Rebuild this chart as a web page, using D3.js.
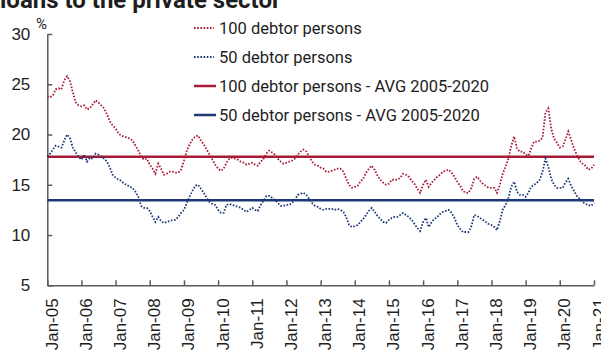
<!DOCTYPE html>
<html>
<head>
<meta charset="utf-8">
<script src="https://cdn.jsdelivr.net/npm/d3@7"></script>
<style>
  html, body { margin: 0; padding: 0; background: #fff; }
  svg { display: block; font-family: Roboto, "Noto Sans", Arial, sans-serif; }
</style>
</head>
<body>
<svg id="chart" width="601" height="350"></svg>
<script>
// Share of loans held by the largest debtors, monthly, Jan-2005 to Jan-2021 (%)
const startMonth = "2005-01";
const top100 = [
  23.8, 23.7, 23.9, 24.5, 24.6, 24.5, 25.4, 25.8, 25.3, 24.2, 23.2, 22.9,
  22.8, 22.9, 22.5, 22.6, 23.0, 23.4, 23.2, 22.9, 22.6, 22.0, 21.3, 20.9,
  20.6, 20.1, 19.9, 19.8, 19.7, 19.6, 19.4, 18.9, 18.4, 17.8, 17.5, 17.6,
  17.0, 16.6, 16.1, 17.1, 16.6, 16.0, 16.1, 16.3, 16.3, 16.2, 16.2, 16.5,
  17.4, 18.4, 19.0, 19.5, 19.8, 19.9, 19.4, 19.0, 18.5, 18.0, 17.5, 17.0,
  16.6, 16.4, 16.6, 17.2, 17.6, 17.7, 17.6, 17.5, 17.3, 17.2, 17.0, 17.1,
  17.2, 17.0, 16.9, 17.3, 17.6, 18.1, 18.4, 18.2, 18.0, 17.6, 17.3, 17.1,
  17.2, 17.3, 17.4, 17.6, 18.0, 18.3, 18.5, 18.3, 17.8, 17.3, 17.0, 16.9,
  16.7, 16.6, 16.3, 16.3, 16.4, 16.5, 16.6, 16.6, 16.3, 15.6, 15.0, 14.7,
  14.8, 14.9, 15.3, 15.6, 16.2, 16.6, 16.9, 16.5, 15.9, 15.5, 15.2, 15.0,
  15.1, 15.5, 15.5, 15.5, 15.7, 16.1, 16.0, 15.8, 15.4, 15.1, 14.6, 14.2,
  15.0, 15.5, 14.8, 15.2, 15.5, 15.8, 16.0, 16.3, 16.4, 16.5, 16.2, 15.8,
  15.3, 14.9, 14.4, 14.2, 14.2, 14.7, 15.6, 15.8, 15.4, 15.1, 14.9, 14.7,
  14.7, 14.7, 14.2, 15.0, 16.1, 16.8, 17.6, 18.9, 19.8, 18.6, 18.3, 18.3,
  18.0, 17.9, 18.6, 19.3, 19.3, 19.4, 19.7, 22.2, 22.6, 20.6, 19.6, 19.2,
  18.7, 18.8, 19.5, 20.3, 19.5, 18.6, 18.0, 17.4, 17.1, 16.9, 16.5, 16.6,
  17.0
];
const top50 = [
  17.8, 18.1, 18.5, 18.9, 18.8, 18.7, 19.4, 20.0, 19.6, 18.7, 18.2, 17.8,
  17.5, 18.0, 17.3, 17.7, 17.6, 18.1, 18.0, 17.8, 17.6, 17.3, 16.7, 16.0,
  15.7, 15.5, 15.4, 15.1, 15.0, 14.8, 14.7, 14.3, 13.8, 12.9, 12.7, 12.7,
  12.4, 11.8, 11.3, 11.8, 11.4, 11.2, 11.3, 11.4, 11.5, 11.5, 11.8, 12.2,
  12.5, 13.2, 13.8, 14.4, 14.9, 15.0, 14.6, 14.2, 13.7, 13.3, 13.1, 13.0,
  12.5, 12.2, 12.2, 13.0, 13.1, 13.0, 12.9, 12.8, 12.7, 12.5, 12.3, 12.5,
  12.7, 12.5, 12.4, 13.0, 13.4, 13.9, 13.9, 13.7, 13.5, 13.2, 12.9, 12.9,
  13.0, 13.0, 13.2, 13.5, 14.0, 14.1, 14.2, 14.0, 13.6, 13.2, 12.9, 12.8,
  12.6, 12.5, 12.6, 12.6, 12.6, 12.5, 12.6, 12.5, 12.3, 11.8, 11.0, 10.8,
  10.9, 11.0, 11.3, 11.6, 12.0, 12.4, 12.7, 12.3, 11.9, 11.6, 11.3, 11.2,
  11.5, 11.7, 11.8, 11.8, 12.0, 12.2, 12.0, 11.8, 11.5, 11.1, 10.7, 10.4,
  11.3, 11.7, 10.8, 11.3, 11.6, 11.8, 12.1, 12.3, 12.4, 12.5, 12.2, 11.7,
  11.0, 10.6, 10.3, 10.3, 10.3, 10.9, 12.0, 11.9, 11.7, 11.5, 11.3, 11.1,
  11.0, 10.8, 10.5, 11.4, 12.5, 13.0, 13.7, 14.8, 15.3, 14.3, 14.0, 14.0,
  13.8, 14.2, 14.8, 15.0, 15.2, 15.5, 16.3, 17.6, 16.8, 15.6, 15.0, 14.7,
  14.7, 14.7, 15.2, 15.6, 14.9, 14.4, 13.9, 13.6, 13.3, 13.1, 13.0, 12.9,
  13.2
];
// Period averages 2005-2020
const avgTop100 = 17.8;
const avgTop50 = 13.45;

const yTicks = [5, 10, 15, 20, 25, 30];
const xTickYears = ["2005","2006","2007","2008","2009","2010","2011","2012","2013",
  "2014","2015","2016","2017","2018","2019","2020","2021"];
const legendLabels = [
  "100 debtor persons",
  "50 debtor persons",
  "100 debtor persons - AVG 2005-2020",
  "50 debtor persons - AVG 2005-2020"
];
const titleText = "loans to the private sector";

const RED = "#a81a35";
const BLUE = "#1d3877";
const AXIS = "#5a5a5a";
const TEXT = "#1e1e1e";

const svg = d3.select("#chart");
const parseMonth = d3.timeParse("%Y-%m");
const parseYear = d3.timeParse("%Y");
const t0 = parseMonth(startMonth);
const months = top100.map((_, i) => d3.timeMonth.offset(t0, i));

const x = d3.scaleTime()
  .domain([parseYear(xTickYears[0]), parseYear(xTickYears[xTickYears.length - 1])])
  .range([47.3, 594]);
const y = d3.scaleLinear().domain([5, 30]).range([285.3, 34]);

// Title line (top of the figure)
svg.append("text")
  .attr("x", 0).attr("y", 8)
  .attr("font-size", 24).attr("font-weight", "bold")
  .attr("fill", TEXT)
  .text(titleText);

// Y axis
const yAxis = svg.append("g")
  .attr("transform", `translate(${x.range()[0]},0)`)
  .call(d3.axisLeft(y).tickValues(yTicks).tickSize(-5).tickSizeOuter(0).tickPadding(17));
yAxis.selectAll("text").attr("font-size", 17).attr("fill", TEXT).attr("font-family", null);
yAxis.selectAll("line").attr("stroke", AXIS).attr("stroke-width", 1.5);
yAxis.select(".domain").attr("stroke", AXIS).attr("stroke-width", 1.5);

svg.append("text")
  .attr("x", 36).attr("y", 29)
  .attr("font-size", 15).attr("fill", TEXT)
  .text("%");

// X axis
const fmt = d3.timeFormat("%b-%y");
const xAxis = svg.append("g")
  .attr("transform", `translate(0,${y(5)})`)
  .call(d3.axisBottom(x).tickValues(xTickYears.map(parseYear)).tickFormat(fmt)
    .tickSize(-5).tickSizeOuter(0));
xAxis.selectAll("line").attr("stroke", AXIS).attr("stroke-width", 1.5);
xAxis.select(".domain").attr("stroke", AXIS).attr("stroke-width", 1.5);
xAxis.selectAll("text")
  .attr("font-size", 17).attr("fill", TEXT).attr("font-family", null)
  .attr("text-anchor", "end")
  .attr("transform", "rotate(-90)")
  .attr("x", -13).attr("y", 10).attr("dy", 0);

// Average lines
[[avgTop100, RED], [avgTop50, BLUE]].forEach(([v, c]) => {
  svg.append("line")
    .attr("x1", x.range()[0]).attr("x2", x.range()[1])
    .attr("y1", y(v)).attr("y2", y(v))
    .attr("stroke", c).attr("stroke-width", 2.5);
});

// Monthly series as dotted lines
const line = d3.line().x((d, i) => x(months[i])).y(d => y(d));
[[top100, RED], [top50, BLUE]].forEach(([vals, c]) => {
  svg.append("path")
    .datum(vals)
    .attr("d", line)
    .attr("fill", "none")
    .attr("stroke", c)
    .attr("stroke-width", 1.8)
    .attr("stroke-dasharray", "1.6,1.6");
});

// Legend
const legendRows = [28, 57, 86, 115];
const legendStyles = [
  { c: RED, w: 1.8, dash: "1.6,1.6", x2: 214 },
  { c: BLUE, w: 1.8, dash: "1.6,1.6", x2: 214 },
  { c: RED, w: 2.5, dash: null, x2: 216 },
  { c: BLUE, w: 2.5, dash: null, x2: 216 }
];
const legend = svg.append("g");
legendLabels.forEach((lab, i) => {
  const s = legendStyles[i];
  legend.append("line")
    .attr("x1", 194).attr("x2", s.x2)
    .attr("y1", legendRows[i]).attr("y2", legendRows[i])
    .attr("stroke", s.c).attr("stroke-width", s.w)
    .attr("stroke-dasharray", s.dash);
  legend.append("text")
    .attr("x", 219).attr("y", legendRows[i])
    .attr("dy", "0.35em")
    .attr("font-size", 16.5).attr("fill", TEXT)
    .text(lab);
});
</script>
</body>
</html>
